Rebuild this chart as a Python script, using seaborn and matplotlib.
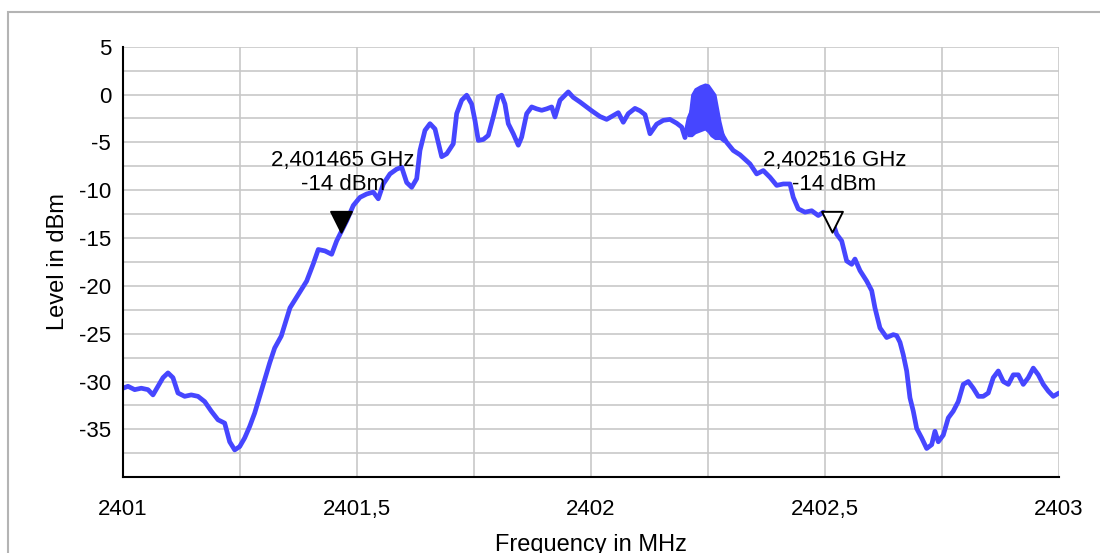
import matplotlib
matplotlib.use("Agg")
import matplotlib.pyplot as plt
import numpy as np
import pandas as pd
import seaborn as sns
from matplotlib.path import Path
from matplotlib.patches import Rectangle
from matplotlib.ticker import MultipleLocator, FuncFormatter

# Spectrum trace: frequency (MHz) and measured level (dBm)
freq_mhz = [
    2401.0000, 2401.0107, 2401.0250, 2401.0391, 2401.0534, 2401.0641, 2401.0748, 2401.0855,
    2401.0962, 2401.1068, 2401.1175, 2401.1318, 2401.1459, 2401.1603, 2401.1746, 2401.1887,
    2401.2030, 2401.2173, 2401.2280, 2401.2387, 2401.2494, 2401.2600, 2401.2707, 2401.2814,
    2401.2921, 2401.3028, 2401.3135, 2401.3241, 2401.3382,
    2401.3568, 2401.3746, 2401.3925, 2401.4066, 2401.4173, 2401.4316, 2401.4459, 2401.4566,
    2401.4673, 2401.4780, 2401.4921, 2401.5064, 2401.5207, 2401.5348, 2401.5455, 2401.5562,
    2401.5705, 2401.5848, 2401.5955, 2401.6062, 2401.6169, 2401.6276, 2401.6346, 2401.6453,
    2401.6560, 2401.6667,
    2401.6810, 2401.6917, 2401.7058, 2401.7130, 2401.7237, 2401.7344, 2401.7451, 2401.7521,
    2401.7592, 2401.7699, 2401.7806, 2401.7912, 2401.8019, 2401.8092, 2401.8162, 2401.8233,
    2401.8340, 2401.8447, 2401.8519, 2401.8626, 2401.8733, 2401.8840, 2401.8947, 2401.9053,
    2401.9160, 2401.9231, 2401.9338, 2401.9444, 2401.9515, 2401.9622, 2401.9765, 2401.9908,
    2402.0015, 2402.0192, 2402.0335, 2402.0476, 2402.0583, 2402.0690, 2402.0797, 2402.0940,
    2402.1047, 2402.1154, 2402.1261, 2402.1404, 2402.1545, 2402.1688, 2402.1831, 2402.1938,
    2402.2009,
    2402.2094, 2402.2179, 2402.2265, 2402.2350, 2402.2436, 2402.2521, 2402.2607, 2402.2692,
    2402.2778,
    2402.2899, 2402.3041, 2402.3184, 2402.3397, 2402.3541, 2402.3682, 2402.3825, 2402.3968,
    2402.4109, 2402.4252, 2402.4323, 2402.4429, 2402.4573, 2402.4716, 2402.4857, 2402.4964,
    2402.5071, 2402.5177, 2402.5250, 2402.5357, 2402.5464, 2402.5571, 2402.5641, 2402.5748,
    2402.5891, 2402.5998, 2402.6068, 2402.6175, 2402.6318, 2402.6459,
    2402.6532, 2402.6603, 2402.6673, 2402.6746, 2402.6816, 2402.6887, 2402.6959, 2402.7066,
    2402.7173, 2402.7280, 2402.7350, 2402.7421, 2402.7528, 2402.7635, 2402.7741, 2402.7848,
    2402.7955, 2402.8062, 2402.8169, 2402.8276, 2402.8382, 2402.8489, 2402.8596, 2402.8703,
    2402.8810, 2402.8917, 2402.9024, 2402.9131, 2402.9237, 2402.9344, 2402.9451, 2402.9558,
    2402.9665, 2402.9771, 2402.9878, 2403.0000,
]

level_dbm = [
    -30.7, -30.5, -30.85, -30.7, -30.85, -31.4, -30.5, -29.6,
    -29.1, -29.6, -31.2, -31.55, -31.4, -31.55, -32.1, -33.1,
    -34.0, -34.35, -36.3, -37.15, -36.8, -35.9, -34.7, -33.3,
    -31.55, -29.8, -28.05, -26.5, -25.25,
    -22.3, -20.9, -19.5, -17.7, -16.2, -16.35, -16.7, -15.3,
    -14.25, -13.2, -11.6, -10.75, -10.4, -10.2, -10.9, -9.35,
    -8.3, -7.8, -7.6, -9.2, -9.7, -8.8, -5.85, -3.75,
    -3.05, -3.6,
    -6.5, -6.2, -5.15, -2.0, -0.6, -0.07, -1.0, -2.7,
    -4.8, -4.7, -4.27, -2.35, -0.25, -0.07, -1.0, -3.05,
    -4.1, -5.3, -4.45, -2.0, -1.3, -1.5, -1.65, -1.5,
    -1.3, -2.35, -0.6, -0.07, 0.27, -0.3, -0.78, -1.3,
    -1.7, -2.3, -2.6, -2.2, -1.9, -2.9, -2.0, -1.45,
    -1.7, -2.1, -4.1, -3.1, -2.7, -2.6, -3.0, -3.4,
    -4.5,
    -2.5, -1.5, -1.0, -0.8, -0.6, -1.2, -1.8, -2.6,
    -4.0,
    -5.0, -5.85, -6.3, -7.25, -8.3, -7.95, -8.65, -9.5,
    -9.35, -9.35, -10.75, -11.95, -12.3, -12.15, -12.65, -12.3,
    -13.0, -13.5, -14.6, -15.3, -17.4, -17.75, -17.2, -18.4,
    -19.5, -20.5, -22.3, -24.4, -25.4, -25.1,
    -25.2, -25.9, -27.2, -28.9, -31.7, -33.1, -34.9, -35.9,
    -37.0, -36.6, -35.2, -36.3, -35.6, -33.8, -33.1, -32.1,
    -30.3, -30.0, -30.7, -31.55, -31.55, -31.2, -29.6, -28.9,
    -30.0, -30.3, -29.3, -29.3, -30.3, -29.6, -28.6, -29.3,
    -30.3, -31.0, -31.55, -31.2,
]

# Envelope of the strongly fluctuating part near the carrier peak
burst_freq = [2402.2079, 2402.2152, 2402.2222, 2402.2329, 2402.2436,
              2402.2506, 2402.2564, 2402.2650, 2402.2756, 2402.2830]
burst_high = [-3.0, 0.0, 0.6, 0.9, 1.1, 1.0, 0.6, 0.0, -2.8, -4.3]
burst_low = [-4.3, -4.3, -4.0, -3.8, -3.6, -3.9, -4.3, -4.6, -4.6, -4.9]

# Bandwidth markers
marker_freq = [2401.465, 2402.516]
marker_level = [-14, -14]
marker_text = ["2,401465 GHz\n-14 dBm", "2,402516 GHz\n-14 dBm"]
marker_filled = [True, False]

trace = pd.DataFrame({"freq": freq_mhz, "level": level_dbm})
trace_color = "#4646ff"

sns.set_theme(style="white")
plt.rcParams["font.family"] = ["Liberation Sans", "DejaVu Sans"]
plt.rcParams["axes.unicode_minus"] = False

fig = plt.figure(figsize=(11, 5.53), dpi=100)
ax = fig.add_axes([0.1118, 0.1371, 0.8509, 0.7785])

# outer frame
fig.patches.append(Rectangle((8 / 1100, -0.05), 1.2, 1.05 - 12 / 553,
                             transform=fig.transFigure, fill=False,
                             edgecolor="#b4b4b4", linewidth=1.5, zorder=0))

sns.lineplot(data=trace, x="freq", y="level", ax=ax, color=trace_color,
             linewidth=3.4, estimator=None, sort=False, zorder=3)
ax.fill_between(burst_freq, burst_low, burst_high, color=trace_color,
                linewidth=1.5, edgecolor=trace_color, zorder=3)

ax.set_xlim(2401, 2403)
ax.set_ylim(-40, 5)
ax.xaxis.set_major_locator(MultipleLocator(0.5))
ax.xaxis.set_minor_locator(MultipleLocator(0.25))
ax.yaxis.set_major_locator(MultipleLocator(5))
ax.yaxis.set_minor_locator(MultipleLocator(2.5))
ax.xaxis.set_major_formatter(FuncFormatter(lambda v, _: f"{v:g}".replace(".", ",")))
ax.yaxis.set_major_formatter(FuncFormatter(lambda v, _: "" if v <= -40 else f"{v:g}"))

ax.grid(which="both", color="#c8c8c8", linewidth=1.2, zorder=0)
ax.set_axisbelow(True)
for side in ("top", "right"):
    ax.spines[side].set_visible(False)
for side in ("left", "bottom"):
    ax.spines[side].set_color("black")
    ax.spines[side].set_linewidth(1.5)
    ax.spines[side].set_zorder(4)

ax.tick_params(which="both", direction="inout", length=10, width=1.5,
               color="black", labelsize=16, labelcolor="black")
ax.tick_params(axis="x", which="both", pad=11)
ax.tick_params(axis="y", which="both", pad=3.5)

ax.set_xlabel("Frequency in MHz", fontsize=17, labelpad=10, color="black")
ax.set_ylabel("Level in dBm", fontsize=17, labelpad=7, color="black")

# down-pointing triangle whose tip sits at the marker point
tri = Path([(-1, 1.6), (1, 1.6), (0, -0.4), (-1, 1.6)],
           [Path.MOVETO, Path.LINETO, Path.LINETO, Path.CLOSEPOLY])
for f, lv, txt, filled in zip(marker_freq, marker_level, marker_text, marker_filled):
    ax.plot([f], [lv], marker=tri, markersize=24, linestyle="none",
            markerfacecolor="black" if filled else "white",
            markeredgecolor="black", markeredgewidth=1.4, zorder=5)
    ax.annotate(txt, xy=(f, lv), xytext=(1.5, 40), textcoords="offset points",
                ha="center", va="center", ma="center", fontsize=16,
                color="black", linespacing=1.2, zorder=6)

fig.savefig("out.png", dpi=100)
